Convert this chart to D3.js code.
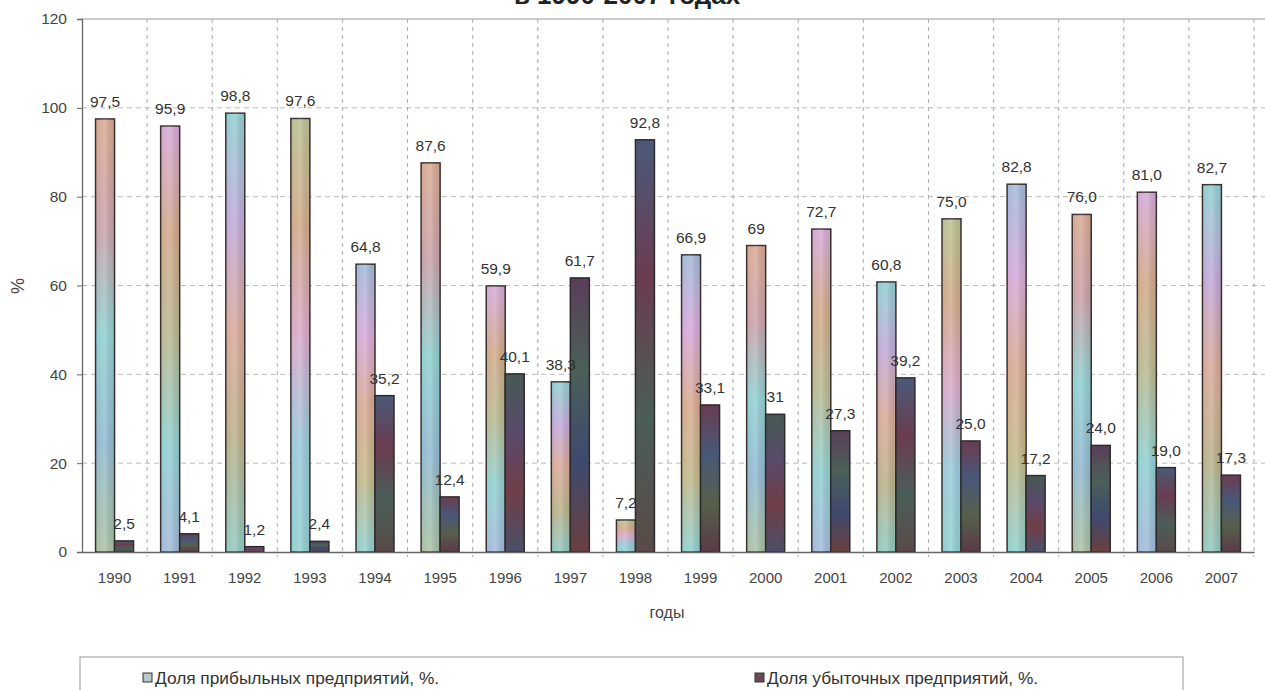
<!DOCTYPE html>
<html><head><meta charset="utf-8">
<script src="https://cdn.jsdelivr.net/npm/d3@7"></script>
<style>
html,body{margin:0;padding:0;background:#fff;}
svg{display:block;font-family:"Liberation Sans",Arial,sans-serif;}
</style></head>
<body>
<svg id="chart" width="1265" height="690"></svg>
<script>
const years = ["1990","1991","1992","1993","1994","1995","1996","1997","1998","1999","2000","2001","2002","2003","2004","2005","2006","2007"];
const profitable = [97.5,95.9,98.8,97.6,64.8,87.6,59.9,38.3,7.2,66.9,69,72.7,60.8,75.0,82.8,76.0,81.0,82.7];
const profitableLabels = ["97,5","95,9","98,8","97,6","64,8","87,6","59,9","38,3","7,2","66,9","69","72,7","60,8","75,0","82,8","76,0","81,0","82,7"];
const loss = [2.5,4.1,1.2,2.4,35.2,12.4,40.1,61.7,92.8,33.1,31,27.3,39.2,25.0,17.2,24.0,19.0,17.3];
const lossLabels = ["2,5","4,1","1,2","2,4","35,2","12,4","40,1","61,7","92,8","33,1","31","27,3","39,2","25,0","17,2","24,0","19,0","17,3"];
const yTicks = [0,20,40,60,80,100,120];
const seriesNames = ["Доля прибыльных предприятий, %.","Доля убыточных предприятий, %."];
const titleText = "в 1990-2007  годах";
const xTitle = "годы";
const yTitle = "%";

(function(){
const svg = d3.select("#chart");
const pL = 82, pR = 1254, pT = 19, pB = 552;
const x = d3.scaleBand().domain(years).range([pL, pR]).padding(0);
const y = d3.scaleLinear().domain([0,120]).range([pB, pT]);
const barW = 19;

const defs = svg.append("defs");
const lightSets = [
  ["#d8a890","#c8a0a8","#8fcfcf","#90b8d0","#a8c0a0"],
  ["#d4a8d8","#d0a888","#b8b890","#8fcfcf","#a0b8d8"],
  ["#8fcfcf","#c0a8d8","#d8a898","#b8b088","#8fc8c0"],
  ["#b8c090","#d0a888","#d8a8c8","#98c8d8","#8fcfcf"],
  ["#a0b8d8","#d4a8d8","#d8a890","#c0b888","#8fcfcf"]
];
const darkSets = [
  ["#4a5a78","#6a3c50","#4a5e58","#5a4a48"],
  ["#6a3c50","#485878","#56604a","#5a3a48"],
  ["#455a55","#5a4a6a","#703e48","#4a5068"],
  ["#5a3e58","#4a6058","#3e4a6e","#6a4040"]
];
lightSets.forEach((s,i)=>{
  const g = defs.append("linearGradient").attr("id","lg"+i).attr("x1",0).attr("y1",0).attr("x2",0).attr("y2",1);
  s.forEach((c,j)=>g.append("stop").attr("offset",j/(s.length-1)).attr("stop-color",c));
});
darkSets.forEach((s,i)=>{
  const g = defs.append("linearGradient").attr("id","dg"+i).attr("x1",0).attr("y1",0).attr("x2",0).attr("y2",1);
  s.forEach((c,j)=>g.append("stop").attr("offset",j/(s.length-1)).attr("stop-color",c));
});
const hg = defs.append("linearGradient").attr("id","hov").attr("x1",0).attr("y1",0).attr("x2",1).attr("y2",0);
hg.append("stop").attr("offset",0).attr("stop-color","#fff").attr("stop-opacity",0.0);
hg.append("stop").attr("offset",0.5).attr("stop-color","#fff").attr("stop-opacity",0.18);
hg.append("stop").attr("offset",1).attr("stop-color","#000").attr("stop-opacity",0.05);

svg.append("text").attr("x",627).attr("y",4).attr("text-anchor","middle")
  .attr("font-size",26).attr("font-weight","bold").attr("fill","#222").text(titleText);

svg.append("g").selectAll("line").data(yTicks.filter(d=>d>0 && d<120)).join("line")
  .attr("x1",pL).attr("x2",1265).attr("y1",d=>y(d)).attr("y2",d=>y(d))
  .attr("stroke","#bbb").attr("stroke-width",1).attr("stroke-dasharray","5,4");
svg.append("line").attr("x1",pL).attr("x2",1265).attr("y1",y(120)).attr("y2",y(120))
  .attr("stroke","#999").attr("stroke-width",1.2);
const bounds = years.slice(1).map(d=>x(d)).concat([pR]);
svg.append("g").selectAll("line").data(bounds).join("line")
  .attr("x1",d=>d).attr("x2",d=>d).attr("y1",pT).attr("y2",pB+5)
  .attr("stroke","#aaa").attr("stroke-width",1).attr("stroke-dasharray","4,4");

const g = svg.append("g");
years.forEach((yr,i)=>{
  const x0 = x(yr) + (x.bandwidth() - 2*barW)/2;
  g.append("rect").attr("x",x0).attr("y",y(profitable[i])).attr("width",barW)
    .attr("height",pB - y(profitable[i])).attr("fill","url(#lg"+(i%lightSets.length)+")")
    .attr("stroke","#3a3030").attr("stroke-width",1.5);
  g.append("rect").attr("x",x0).attr("y",y(profitable[i])).attr("width",barW)
    .attr("height",pB - y(profitable[i])).attr("fill","url(#hov)");
  g.append("rect").attr("x",x0+barW).attr("y",y(loss[i])).attr("width",barW)
    .attr("height",pB - y(loss[i])).attr("fill","url(#dg"+(i%darkSets.length)+")")
    .attr("stroke","#2e2a2e").attr("stroke-width",1.5);
  g.append("text").attr("x",x0+barW/2).attr("y",y(profitable[i])-12).attr("text-anchor","middle")
    .attr("font-size",15.5).attr("fill","#333").text(profitableLabels[i]);
  g.append("text").attr("x",x0+barW*1.5).attr("y",y(loss[i])-12).attr("text-anchor","middle")
    .attr("font-size",15.5).attr("fill","#333").text(lossLabels[i]);
});

const yAxis = svg.append("g").attr("transform",`translate(${pL},0)`)
  .call(d3.axisLeft(y).tickValues(yTicks).tickSize(5).tickPadding(10).tickFormat(d3.format("d")));
yAxis.select(".domain").attr("stroke","#666").attr("stroke-width",1.3);
yAxis.selectAll(".tick line").attr("stroke","#666");
yAxis.selectAll("text").attr("font-size",15.5).attr("fill","#444").attr("font-family","Liberation Sans, Arial, sans-serif");

const xAxis = svg.append("g").attr("transform",`translate(0,${pB})`)
  .call(d3.axisBottom(x).tickSize(0).tickPadding(20));
xAxis.select(".domain").attr("stroke","#666").attr("stroke-width",1.3);
xAxis.selectAll("text").attr("font-size",15).attr("fill","#444").attr("font-family","Liberation Sans, Arial, sans-serif");

svg.append("text").attr("x",667).attr("y",618).attr("text-anchor","middle")
  .attr("font-size",16).attr("fill","#444").text(xTitle);
svg.append("text").attr("transform","translate(24,286) rotate(-90)").attr("text-anchor","middle")
  .attr("font-size",18).attr("fill","#444").text(yTitle);

svg.append("rect").attr("x",80).attr("y",657).attr("width",1103).attr("height",40)
  .attr("fill","#fff").attr("stroke","#999").attr("stroke-width",1);
const leg = [[143,"#b8c8c8"],[755,"#6a4a58"]];
leg.forEach((l,i)=>{
  svg.append("rect").attr("x",l[0]).attr("y",673).attr("width",9).attr("height",9)
    .attr("fill",l[1]).attr("stroke","#333").attr("stroke-width",1);
  svg.append("text").attr("x",l[0]+12).attr("y",684).attr("font-size",17.3).attr("fill","#333").text(seriesNames[i]);
});
})();
</script>
</body></html>
